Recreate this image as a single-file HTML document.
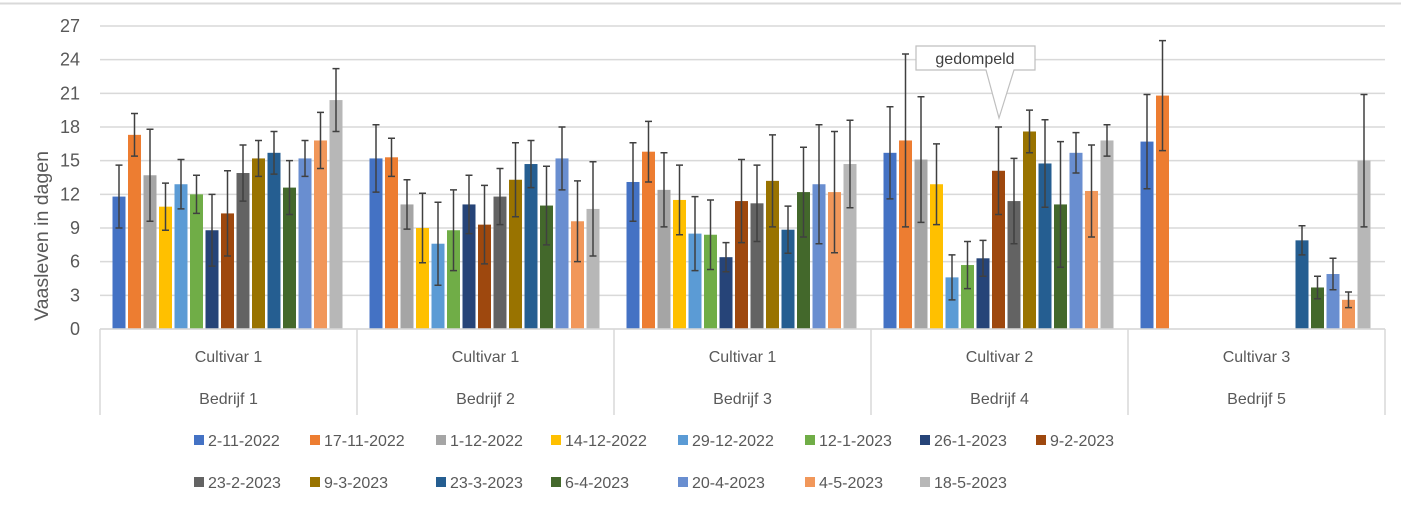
<!DOCTYPE html>
<html><head><meta charset="utf-8"><style>
body{margin:0;background:#fff;width:1401px;height:501px;overflow:hidden;font-family:"Liberation Sans",sans-serif}
</style></head><body>
<svg id="chart" width="1401" height="501" xmlns="http://www.w3.org/2000/svg" font-family="Liberation Sans, sans-serif">
<line x1="0" y1="3.5" x2="1401" y2="3.5" stroke="#d9d9d9" stroke-width="2"/>
<g id="grid"></g><g id="bars"></g><g id="axis"></g><g id="legend"></g>
<text transform="translate(48,236) rotate(-90)" text-anchor="middle" font-size="19.5" fill="#595959">Vaasleven in dagen</text>
<g>
<path d="M916,46 H1035 V70 H1014 L999,118 L986,70 H916 Z" fill="#fff" stroke="#bfbfbf" stroke-width="1.2"/>
<text x="975" y="64" text-anchor="middle" font-size="16" fill="#404040">gedompeld</text>
</g>
</svg>
<script>
const cultivars=["Cultivar 1","Cultivar 1","Cultivar 1","Cultivar 2","Cultivar 3"];
const bedrijven=["Bedrijf 1","Bedrijf 2","Bedrijf 3","Bedrijf 4","Bedrijf 5"];
const seriesNames=["2-11-2022","17-11-2022","1-12-2022","14-12-2022","29-12-2022","12-1-2023","26-1-2023","9-2-2023","23-2-2023","9-3-2023","23-3-2023","6-4-2023","20-4-2023","4-5-2023","18-5-2023"];
const colors=["#4472C4","#ED7D31","#A5A5A5","#FFC000","#5B9BD5","#70AD47","#264478","#9E480E","#636363","#997300","#255E91","#43682B","#698ED0","#F1975A","#B7B7B7"];
const values=[
[11.8,17.3,13.7,10.9,12.9,12.0,8.8,10.3,13.9,15.2,15.7,12.6,15.2,16.8,20.4],
[15.2,15.3,11.1,9.0,7.6,8.8,11.1,9.3,11.8,13.3,14.7,11.0,15.2,9.6,10.7],
[13.1,15.8,12.4,11.5,8.5,8.4,6.4,11.4,11.2,13.2,8.85,12.2,12.9,12.2,14.7],
[15.7,16.8,15.1,12.9,4.6,5.7,6.3,14.1,11.4,17.6,14.75,11.1,15.7,12.3,16.8],
[16.7,20.8,null,null,null,null,null,null,null,null,7.9,3.7,4.9,2.6,15.0]];
const errors=[
[2.8,1.9,4.1,2.1,2.2,1.7,3.2,3.8,2.5,1.6,1.9,2.4,1.6,2.5,2.8],
[3.0,1.7,2.2,3.1,3.7,3.6,2.6,3.5,2.5,3.3,2.1,3.5,2.8,3.6,4.2],
[3.5,2.7,3.3,3.1,3.3,3.1,1.3,3.7,3.4,4.1,2.1,4.0,5.3,5.4,3.9],
[4.1,7.7,5.6,3.6,2.0,2.1,1.6,3.9,3.8,1.9,3.9,5.6,1.8,4.1,1.4],
[4.2,4.9,0,0,0,0,0,0,0,0,1.3,1.0,1.4,0.7,5.9]];
const yTicks=[0,3,6,9,12,15,18,21,24,27];

const NS="http://www.w3.org/2000/svg";
const X0=100,GW=257,Y0=329,PPU=(329-26)/27;
const y=v=>Y0-v*PPU;
const slotX=(g,s)=>X0+g*GW+12.5+s*15.5;
function el(tag,attrs,parent,text){const e=document.createElementNS(NS,tag);for(const k in attrs)e.setAttribute(k,attrs[k]);if(text!==undefined)e.textContent=text;parent.appendChild(e);return e;}
const grid=document.getElementById('grid'),bars=document.getElementById('bars'),axis=document.getElementById('axis'),legend=document.getElementById('legend');
yTicks.forEach(t=>{
  const l=el('line',{x1:X0,x2:X0+5*GW,y1:y(t),y2:y(t),stroke:'#d9d9d9','stroke-width':1.5},grid);
  
  
  const tx=el('text',{x:80,y:y(t)+6,'text-anchor':'end','font-size':18,fill:'#595959'},axis,String(t));
  
  
});
values.forEach((grp,g)=>{
  grp.forEach((v,s)=>{
    if(v===null)return;
    const x=slotX(g,s);
    const r=el('rect',{x:x,y:y(v),width:13,height:Y0-y(v),fill:colors[s]},bars);
    
    
    const e=errors[g][s];
    if(e>0){
      const cx=x+6.5;
      const eb=el('path',{d:`M${cx},${y(v+e)}V${y(v-e)}M${cx-3.5},${y(v+e)}H${cx+3.5}M${cx-3.5},${y(v-e)}H${cx+3.5}`,stroke:'#404040','stroke-width':1.5,fill:'none'},bars);
      
      
    }
  });
});
el('line',{x1:X0,x2:X0+5*GW,y1:Y0,y2:Y0,stroke:'#d9d9d9','stroke-width':1.5},axis);
for(let g=0;g<=5;g++){el('line',{x1:X0+g*GW,x2:X0+g*GW,y1:Y0,y2:415,stroke:'#d9d9d9','stroke-width':1.5},axis);}
cultivars.forEach((c,g)=>{
  const cx=X0+g*GW+GW/2;
  const t1=el('text',{x:cx,y:362,'text-anchor':'middle','font-size':16,fill:'#595959'},axis,c);
  
  
  const t2=el('text',{x:cx,y:404,'text-anchor':'middle','font-size':16,fill:'#595959'},axis,bedrijven[g]);
  
  
});
const colX=[199,315,441,556,683,810,925,1041];
seriesNames.forEach((n,i)=>{
  const row=i<8?0:1,col=i<8?i:i-8;
  const ly=row?482:440,lx=colX[col];
  const gEl=el('g',{},legend);
  
  
  el('rect',{x:lx-5,y:ly-5,width:10,height:10,fill:colors[i]},gEl);
  el('text',{x:lx+9,y:ly+6,'font-size':16,fill:'#595959'},gEl,n);
});
</script>
</body></html>
